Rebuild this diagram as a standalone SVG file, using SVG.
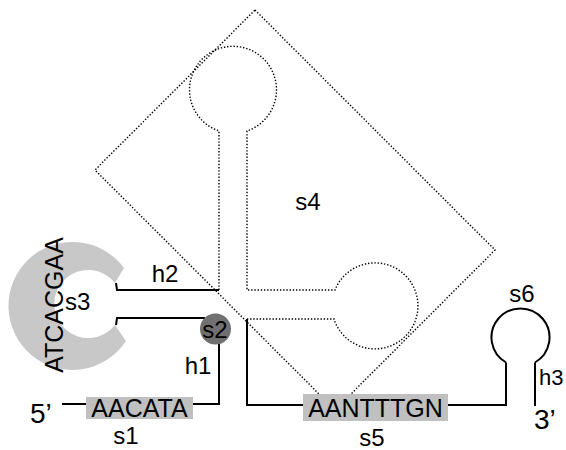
<svg xmlns="http://www.w3.org/2000/svg" width="566" height="450" viewBox="0 0 566 450">
  <style>
    text { font-family: "Liberation Sans", Arial, sans-serif; fill: #000; }
    .seq { font-size: 25px; }
    .lbl { font-size: 24px; }
    .end { font-size: 28px; }
    .wire { fill: none; stroke: #000; stroke-width: 2; }
    .dot { fill: none; stroke: #000; stroke-width: 1.4; stroke-dasharray: 1.4 1.8; }
    .box { fill: #c0c0c0; }
  </style>

  <!-- s4: dotted region with its stem-loop and the enclosing square -->
  <g id="s4">
    <path class="dot" d="M255,10 L495,250 L335,410 L95,170 Z"/>
    <path class="dot" d="M219,290 L219,131 A43.5,43.5 0 1 1 247,131 L247,290 L335,290 A43,43 0 1 1 334,319 L247,319"/>
    <text class="lbl" x="308" y="210" text-anchor="middle">s4</text>
  </g>

  <!-- connecting strands -->
  <g id="connectors">
    <path class="wire" d="M62,404 L86,404"/>
    <path class="wire" d="M193,404 L219,404 L219,344"/>
    <path class="wire" d="M116,325 L117,318 L205,318"/>
    <path class="wire" d="M116,283 L117,290 L219,290"/>
    <path class="wire" d="M247,319 L247,405 L303,405"/>
    <path class="wire" d="M448,405 L506,405 L506,362.5"/>
  </g>

  <!-- s3: open ring with its sequence -->
  <g id="s3">
    <path fill="#c8c8c8" d="M124,268 A64,64 0 1 0 126,341 L115,325 A34,34 0 1 1 115,283 Z"/>
    <text class="seq" transform="translate(63,305) rotate(-90)" text-anchor="middle">ATCACGAA</text>
    <text class="lbl" x="65" y="310">s3</text>
  </g>

  <g id="h2">
    <text class="lbl" x="165" y="282" text-anchor="middle">h2</text>
  </g>

  <g id="s2">
    <circle cx="215.5" cy="329" r="15.5" fill="#707070"/>
    <text class="lbl" x="215" y="338" text-anchor="middle">s2</text>
  </g>

  <g id="h1">
    <text class="lbl" x="198" y="374" text-anchor="middle">h1</text>
  </g>

  <g id="five_prime">
    <text class="end" x="30" y="423">5’</text>
  </g>

  <g id="s1">
    <rect class="box" x="86" y="397" width="107" height="22"/>
    <text class="seq" x="139.5" y="417" text-anchor="middle">AACATA</text>
    <text class="lbl" x="126" y="444" text-anchor="middle">s1</text>
  </g>

  <g id="s5">
    <rect class="box" x="303" y="394" width="145" height="27"/>
    <text class="seq" x="375.5" y="417" text-anchor="middle">AANTTTGN</text>
    <text class="lbl" x="372" y="446" text-anchor="middle">s5</text>
  </g>

  <g id="s6">
    <path class="wire" d="M506,362.5 A29,29 0 1 1 535,362.5"/>
    <text class="lbl" x="522" y="302" text-anchor="middle">s6</text>
  </g>

  <g id="h3">
    <path class="wire" d="M535,362.5 L535,406"/>
    <text x="539" y="385" font-size="22">h3</text>
  </g>

  <g id="three_prime">
    <text class="end" x="534" y="429">3’</text>
  </g>
</svg>
